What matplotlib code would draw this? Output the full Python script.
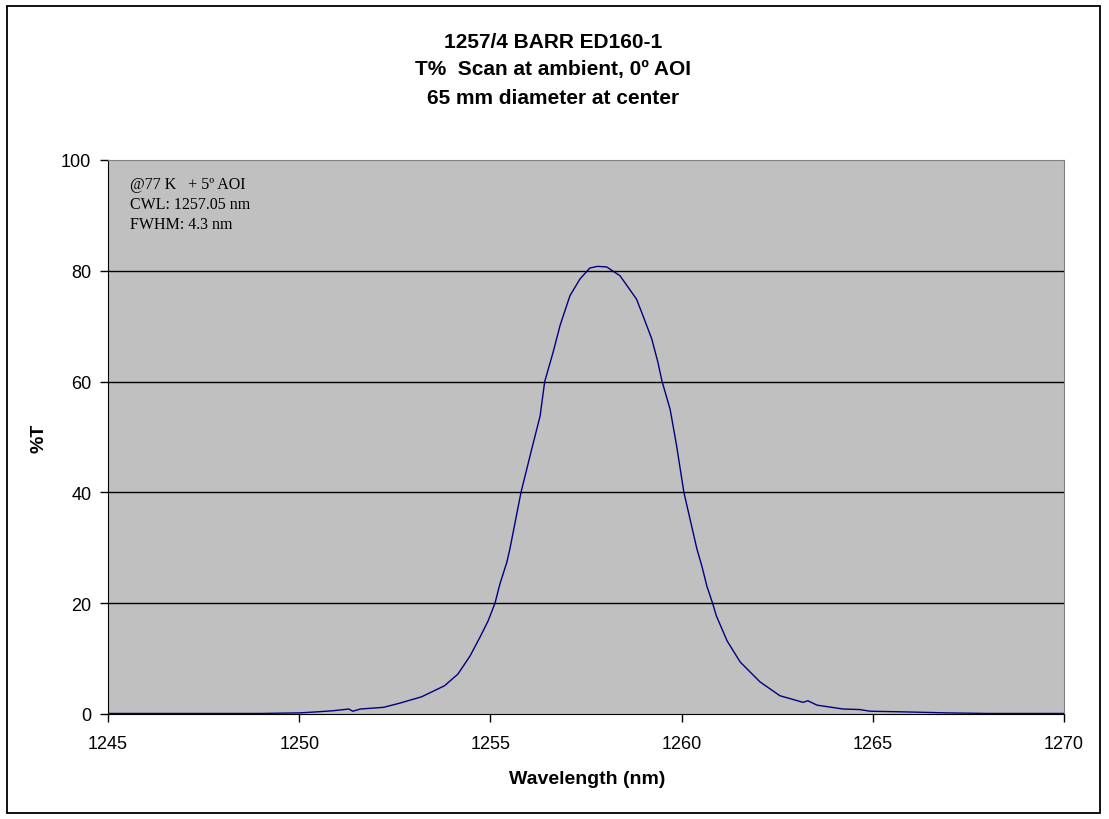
import matplotlib.pyplot as plt
from matplotlib.patches import Rectangle

# transmission scan values
wavelength = [1245.0, 1246.0, 1247.0, 1248.0, 1249.0, 1250.0, 1250.5, 1250.9, 1251.3, 1251.4,
              1251.6, 1252.2, 1252.6, 1253.2, 1253.8, 1254.15, 1254.47, 1254.73, 1254.94, 1255.12,
              1255.25, 1255.43, 1255.51, 1255.8, 1256.08, 1256.30, 1256.42, 1256.64, 1256.82, 1257.08,
              1257.34, 1257.60, 1257.8, 1258.04, 1258.39, 1258.82, 1258.99, 1259.22, 1259.38, 1259.49,
              1259.70, 1259.87, 1260.06, 1260.40, 1260.53, 1260.66, 1260.81, 1260.91, 1261.19, 1261.53,
              1262.05, 1262.57, 1263.18, 1263.3, 1263.54, 1264.22, 1264.66, 1264.93, 1265.71, 1266.94,
              1268.0, 1270.0]
transmission = [0.1, 0.1, 0.1, 0.1, 0.1, 0.2, 0.4, 0.6, 0.9, 0.5,
                0.9, 1.2, 1.9, 3.1, 5.1, 7.2, 10.5, 13.9, 16.8, 20.0,
                23.5, 27.4, 29.8, 40.0, 47.8, 53.8, 60.0, 65.3, 70.1, 75.5,
                78.5, 80.5, 80.8, 80.7, 79.1, 74.9, 71.9, 67.7, 63.5, 60.0,
                55.0, 48.4, 40.0, 29.8, 26.7, 23.1, 20.0, 17.7, 13.2, 9.4,
                5.8, 3.3, 2.1, 2.4, 1.6, 0.9, 0.8, 0.5, 0.4, 0.2,
                0.1, 0.1]

title_lines = ['1257/4 BARR ED160-1', 'T%  Scan at ambient, 0\u00ba AOI', '65 mm diameter at center']
note_lines = ['@77 K   + 5\u00ba AOI', 'CWL: 1257.05 nm', 'FWHM: 4.3 nm']

W, H = 1109, 820
fig = plt.figure(figsize=(W / 100, H / 100), dpi=100)
fig.patch.set_facecolor('white')
fig.patches.append(Rectangle((7 / W, 1 - 814 / H), 1093 / W, 807 / H, transform=fig.transFigure,
                             fill=False, edgecolor='black', linewidth=1.3))

ax = fig.add_axes([108 / W, 1 - 715 / H, (1064 - 108) / W, (715 - 161) / H])
ax.set_facecolor('#C0C0C0')
ax.plot(wavelength, transmission, color='#000080', linewidth=1.0)

ax.set_xlim(1245, 1270)
ax.set_ylim(0, 100)
ax.set_xticks(range(1245, 1271, 5))
ax.set_yticks(range(0, 101, 20))
for y in [20, 40, 60, 80]:
    ax.axhline(y, color='black', linewidth=1.0, zorder=1)

for s in ['top', 'right']:
    ax.spines[s].set_color('#808080')
for s in ['left', 'bottom']:
    ax.spines[s].set_color('black')
ax.tick_params(direction='out', length=6, width=1, labelsize=13, pad=6)
ax.tick_params(axis='x', pad=9)
for lbl in ax.get_xticklabels() + ax.get_yticklabels():
    lbl.set_family('Liberation Sans')

ax.set_xlabel('Wavelength (nm)', fontsize=14, fontweight='bold', family='Liberation Sans')
ax.xaxis.set_label_coords((587 - 108) / (1064 - 108), -(771 - 715) / (715 - 161))
ax.set_ylabel('%T', fontsize=14, fontweight='bold', family='Liberation Sans')
ax.yaxis.set_label_coords(-(108 - 48) / (1064 - 108), (715 - 438) / (715 - 161))

for i, line in enumerate(title_lines):
    fig.text(553 / W, 1 - (42 + 28 * i) / H, line, ha='center', va='center', fontsize=15,
             fontweight='bold', family='Liberation Sans')
ax.text(22 / (1064 - 108), 1 - 16 / (715 - 161), '\n'.join(note_lines), transform=ax.transAxes,
        ha='left', va='top', fontsize=11.5, family='Liberation Serif', linespacing=1.35)

plt.savefig('out.png', dpi=100)
